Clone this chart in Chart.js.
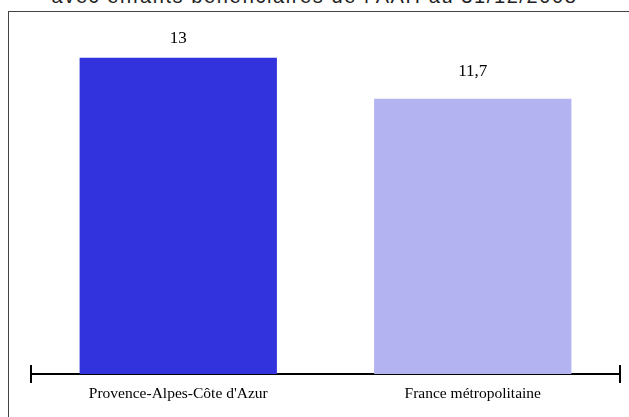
<!DOCTYPE html>
<html>
<head>
<meta charset="utf-8">
<script src="https://cdn.jsdelivr.net/npm/chart.js@4"></script>
<style>
  html, body { margin: 0; padding: 0; background: #fff; overflow: hidden; }
  #wrap { position: relative; width: 629px; height: 417px; }
  #titre {
    position: absolute; left: 0; width: 629px; top: -15px;
    text-align: center; font-family: "Liberation Sans", Arial, sans-serif;
    font-size: 20px; line-height: 22px; color: #222; white-space: nowrap;
    letter-spacing: 1.6px;
  }
  #cadre {
    position: absolute; left: 8px; top: 11px; width: 640px; height: 420px;
    border-left: 1.5px solid #444; border-top: 1.5px solid #444;
  }
  #graph { position: absolute; left: 0; top: 0; }
</style>
</head>
<body>
<div id="wrap">
  <div id="titre">avec enfants bénéficiaires de l'AAH au 31/12/2008</div>
  <div id="cadre"></div>
  <canvas id="graph" width="629" height="417"></canvas>
</div>
<script>
var territoires = ["Provence-Alpes-Côte d'Azur", "France métropolitaine"];
var valeurs = [13, 11.7];
var couleurs = ["#3333dd", "#b3b3f2"];

// etiquettes au-dessus des barres (placees sur une echelle partant de 0)
var etiquettes = {
    id: 'etiquettes',
    afterDatasetsDraw: function(chart) {
        var ctx = chart.ctx;
        var meta = chart.getDatasetMeta(0);
        var echelle = chart.scales.yEtiq;
        ctx.save();
        ctx.font = '17px "Liberation Serif", "Times New Roman", serif';
        ctx.fillStyle = '#000';
        ctx.textAlign = 'center';
        ctx.textBaseline = 'alphabetic';
        meta.data.forEach(function(bar, i) {
            ctx.fillText(String(valeurs[i]).replace('.', ','), bar.x, echelle.getPixelForValue(valeurs[i]));
        });
        ctx.restore();
    }
};

// petits traits verticaux aux bouts de l'axe
var boutsAxe = {
    id: 'boutsAxe',
    afterDraw: function(chart) {
        var ctx = chart.ctx;
        var a = chart.chartArea;
        ctx.save();
        ctx.strokeStyle = '#000';
        ctx.lineWidth = 2;
        ctx.beginPath();
        ctx.moveTo(a.left, a.bottom - 9);
        ctx.lineTo(a.left, a.bottom + 9);
        ctx.moveTo(a.right, a.bottom - 9);
        ctx.lineTo(a.right, a.bottom + 9);
        ctx.stroke();
        ctx.restore();
    }
};

new Chart(document.getElementById("graph"), {
    type: 'bar',
    data: {
        labels: territoires,
        datasets: [{
            backgroundColor: couleurs,
            data: valeurs,
            categoryPercentage: 1,
            barPercentage: 0.67
        }]
    },
    options: {
        responsive: false,
        animation: false,
        layout: { padding: { left: 31, right: 9, top: 26, bottom: 2.5 } },
        plugins: {
            legend: { display: false },
            title: { display: false },
            tooltip: { enabled: false }
        },
        scales: {
            y: { display: false, min: 3, max: 14 },
            yEtiq: { display: false, min: 0, max: 13.65 },
            x: {
                grid: { display: false, drawTicks: false },
                border: { display: true, color: '#000', width: 2 },
                ticks: {
                    color: '#000',
                    padding: 11,
                    font: { family: '"Liberation Serif", "Times New Roman", serif', size: 15.5 }
                }
            }
        }
    },
    plugins: [etiquettes, boutsAxe]
});
</script>
</body>
</html>
